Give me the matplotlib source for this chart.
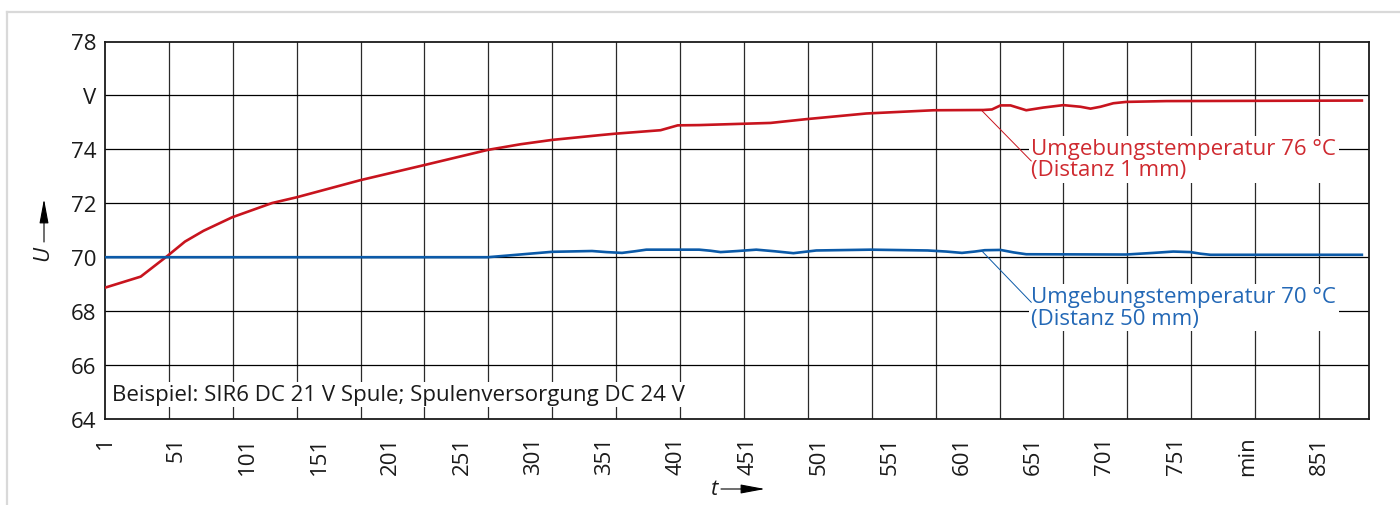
import matplotlib
matplotlib.use("Agg")
import matplotlib.pyplot as plt
from matplotlib.lines import Line2D
import numpy as np

plt.rcParams['font.family'] = ['Open Sans', 'DejaVu Sans']

t_76 = [1, 26, 45, 57, 70, 90, 118, 135, 180, 224, 269, 292, 314, 348, 358, 390,
        402, 417, 467, 492, 534, 581, 616, 622, 628, 635, 646, 658, 672, 684, 691,
        698, 707, 716, 744, 881]
u_76 = [68.87, 69.28, 70.06, 70.58, 70.98, 71.48, 72.01, 72.22, 72.86, 73.41, 73.98,
        74.19, 74.35, 74.53, 74.58, 74.71, 74.89, 74.90, 74.98, 75.12, 75.33, 75.45,
        75.46, 75.48, 75.63, 75.63, 75.45, 75.55, 75.64, 75.58, 75.51, 75.58, 75.71,
        75.76, 75.79, 75.81]

t_70 = [1, 269, 296, 314, 342, 352, 363, 372, 380, 417, 425, 432, 444, 457, 470,
        483, 491, 499, 537, 577, 590, 601, 610, 617, 628, 637, 646, 716, 735, 749,
        761, 768, 775, 881]
u_70 = [70.0, 70.0, 70.12, 70.20, 70.23, 70.19, 70.16, 70.22, 70.28, 70.28, 70.24,
        70.19, 70.23, 70.28, 70.22, 70.15, 70.20, 70.25, 70.28, 70.25, 70.21, 70.16,
        70.21, 70.26, 70.27, 70.18, 70.11, 70.10, 70.16, 70.21, 70.19, 70.13, 70.09,
        70.09]

x_ticks = [1, 51, 101, 151, 201, 251, 301, 351, 401, 451, 501, 551, 601, 651, 701, 751, 801, 851]
x_labels = ['1', '51', '101', '151', '201', '251', '301', '351', '401', '451', '501',
            '551', '601', '651', '701', '751', 'min', '851']
y_ticks = [64, 66, 68, 70, 72, 74, 76, 78]
y_labels = ['64', '66', '68', '70', '72', '74', 'V', '78']

red = '#c8141e'
red_txt = '#cf2a30'
blue = '#0b5aa8'
blue_txt = '#2368b6'
fs = 16

fig = plt.figure(figsize=(14, 5.06), dpi=100)
ax = fig.add_axes([105/1400, 1-420/506, 1264/1400, 377.5/506])

ax.set_xlim(1, 886)
ax.set_ylim(64, 78)

# Raster: 19 gleiche Felder zwischen 1 und 851
grid_x = np.linspace(1, 851, 20)[1:]
for gx in grid_x:
    ax.axvline(gx, color='#2a2a2a', lw=0.9, zorder=1)
for gy in y_ticks[1:-1]:
    ax.axhline(gy, color='black', lw=0.9, zorder=1)

ax.plot(t_76, u_76, color=red, lw=1.9, zorder=5, solid_joinstyle='round')
ax.plot(t_70, u_70, color=blue, lw=1.9, zorder=5, solid_joinstyle='round')

ax.set_xticks(x_ticks)
ax.set_xticklabels(x_labels, rotation=90, va='top', ha='center')
ax.set_yticks(y_ticks)
ax.set_yticklabels(y_labels)
ax.tick_params(axis='both', length=0, labelsize=fs, colors='#1a1a1a')
ax.tick_params(axis='x', pad=12)
ax.tick_params(axis='y', pad=6)
for s in ax.spines.values():
    s.set_linewidth(1.3)
    s.set_color('#1a1a1a')

box = dict(facecolor='white', edgecolor='none', pad=2)

# Beschriftungen der Kurven mit Hinweislinien
ax.plot([614.5, 649.5], [75.46, 73.57], color=red, lw=0.7, zorder=4)
ax.text(649.5, 73.63, 'Umgebungstemperatur 76 °C\n(Distanz 1 mm)', color=red_txt,
        fontsize=fs, ha='left', va='center', linespacing=1.02, bbox=box, zorder=3)
ax.plot([615.5, 649.5], [70.20, 68.33], color=blue, lw=0.7, zorder=4)
ax.text(649.5, 68.14, 'Umgebungstemperatur 70 °C\n(Distanz 50 mm)', color=blue_txt,
        fontsize=fs, ha='left', va='center', linespacing=1.02, bbox=box, zorder=3)

ax.text(6, 64.92, 'Beispiel: SIR6 DC 21 V Spule; Spulenversorgung DC 24 V',
        fontsize=fs, color='#1a1a1a', ha='left', va='center',
        bbox=dict(facecolor='white', edgecolor='none', pad=1.5), zorder=3)

# Achsenbezeichnungen mit Pfeilen
fig.text(43, 253, 'U', transform=None, fontsize=fs, style='italic',
         rotation=90, ha='center', va='center', color='#1a1a1a')
ax.annotate('', xy=(44, 306), xytext=(44, 263), xycoords='figure pixels',
            textcoords='figure pixels',
            arrowprops=dict(arrowstyle='-|>,head_length=1.5,head_width=0.28',
                            mutation_scale=10, color='black', lw=0.8,
                            shrinkA=0, shrinkB=0))
fig.text(715, 16, 't', transform=None, fontsize=fs, style='italic',
         ha='center', va='center', color='#1a1a1a')
ax.annotate('', xy=(765, 16), xytext=(721, 16), xycoords='figure pixels',
            textcoords='figure pixels',
            arrowprops=dict(arrowstyle='-|>,head_length=1.5,head_width=0.28',
                            mutation_scale=10, color='black', lw=0.8,
                            shrinkA=0, shrinkB=0))

# hellgrauer Rahmen (oben und links)
fig.add_artist(Line2D([7/1400, 1], [1-13/506, 1-13/506], transform=fig.transFigure,
                      color='#d9d9d9', lw=1.6))
fig.add_artist(Line2D([7/1400, 7/1400], [0, 1-13/506], transform=fig.transFigure,
                      color='#d9d9d9', lw=1.6))

fig.savefig('out.png', dpi=100)
